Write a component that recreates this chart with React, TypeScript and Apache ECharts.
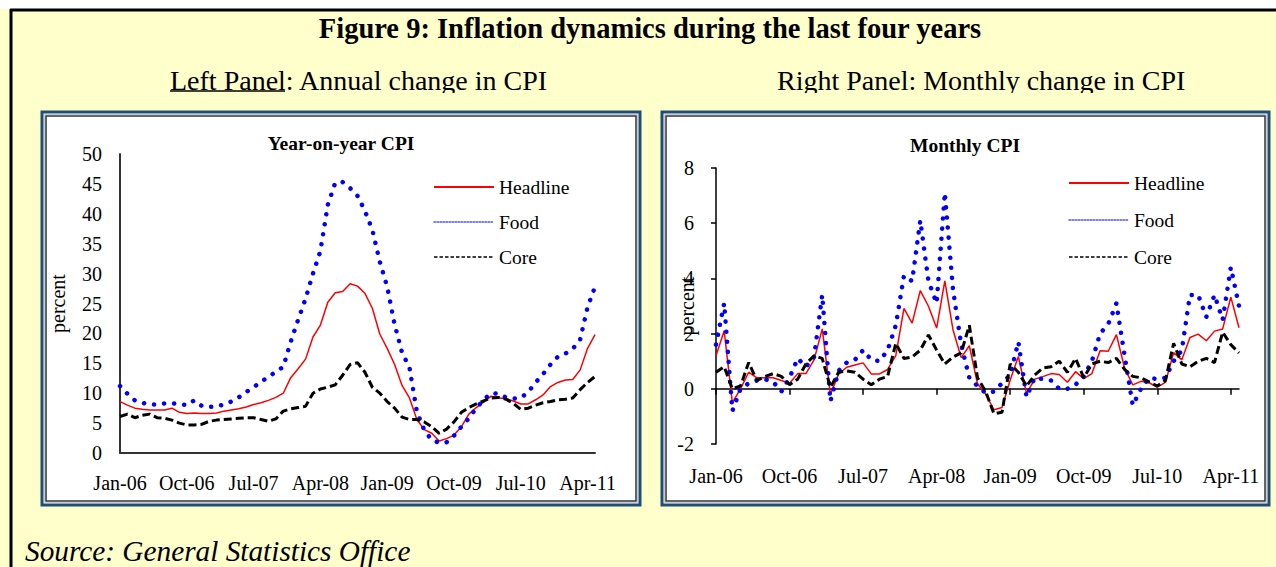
import React, { useEffect, useRef } from 'react';
import * as echarts from 'echarts';

// ---------- data ----------
const MONTH_NAMES = ['Jan', 'Feb', 'Mar', 'Apr', 'May', 'Jun', 'Jul', 'Aug', 'Sep', 'Oct', 'Nov', 'Dec'];
const YEARS = ['06', '07', '08', '09', '10', '11'];
const N_POINTS = 65; // Jan-06 .. May-11
const categories: string[] = [];
for (const y of YEARS) for (const m of MONTH_NAMES) if (categories.length < N_POINTS) categories.push(`${m}-${y}`);

const SERIES_NAMES = ['Headline', 'Food', 'Core'];

// Year-on-year CPI (%)
const yoyHeadline = [
  8.6, 8.0, 7.5, 7.3, 7.2, 7.2, 7.2, 7.5, 6.8, 6.6, 6.7, 6.6,
  6.6, 6.7, 7.0, 7.2, 7.4, 7.7, 8.1, 8.4, 8.8, 9.3, 10.0, 12.6,
  14.1, 15.7, 19.4, 21.4, 25.2, 26.8, 27.0, 28.3, 27.9, 26.7, 24.2, 19.9,
  17.5, 14.8, 11.3, 9.2, 5.6, 3.9, 3.3, 2.0, 2.4, 3.0, 4.4, 6.5,
  7.6, 8.5, 9.5, 9.2, 9.1, 8.7, 8.2, 8.2, 8.9, 9.7, 11.1, 11.8,
  12.2, 12.3, 13.9, 17.5, 19.8,
];
const yoyFood = [
  11.2, 9.9, 8.8, 8.4, 8.1, 8.1, 8.3, 8.3, 8.2, 8.0, 8.8, 7.9,
  7.7, 7.8, 8.1, 8.6, 9.3, 10.2, 11.0, 11.9, 12.7, 13.6, 14.4, 18.6,
  22.3, 25.8, 30.0, 33.8, 41.5, 45.2, 45.3, 44.3, 43.0, 40.5, 37.3, 32.0,
  27.8, 21.5, 16.8, 14.3, 6.9, 3.8, 2.2, 1.7, 1.8, 2.9, 4.4, 5.8,
  7.5, 8.9, 10.0, 9.9, 9.3, 9.1, 9.2, 10.2, 11.8, 13.2, 14.8, 16.1,
  16.6, 17.4, 19.0, 24.4, 27.8,
];
const yoyCore = [
  6.1, 6.5, 5.9, 6.3, 6.5, 5.9, 5.8, 5.5, 5.0, 4.7, 4.7, 4.8,
  5.3, 5.5, 5.6, 5.7, 5.8, 5.9, 5.9, 5.6, 5.3, 5.7, 7.0, 7.4,
  7.6, 7.8, 10.0, 10.7, 11.0, 11.4, 13.0, 14.8, 15.1, 13.5, 11.0, 10.0,
  8.6, 7.5, 6.0, 5.6, 5.6, 5.2, 4.4, 3.3, 4.0, 5.2, 6.8, 7.6,
  8.2, 8.7, 9.2, 9.3, 9.0, 8.3, 7.3, 7.5, 8.0, 8.4, 8.6, 8.9,
  9.0, 9.2, 10.6, 11.8, 12.8,
];

// Month-on-month CPI (%)
const momHeadline = [
  1.2, 2.1, -0.5, 0.0, 0.6, 0.4, 0.4, 0.4, 0.3, 0.2, 0.55, 0.55,
  1.05, 2.17, -0.2, 0.53, 0.78, 0.86, 0.94, 0.54, 0.54, 0.7, 1.2, 2.91,
  2.38, 3.56, 2.99, 2.2, 3.91, 2.14, 1.13, 1.56, 0.18, -0.19, -0.76, -0.68,
  0.32, 1.17, -0.17, 0.35, 0.44, 0.55, 0.52, 0.24, 0.62, 0.37, 0.55, 1.38,
  1.36, 1.96, 0.75, 0.14, 0.27, 0.22, 0.06, 0.23, 1.31, 1.05, 1.86, 1.98,
  1.74, 2.09, 2.17, 3.32, 2.21,
];
const momFood = [
  1.6, 3.1, -0.8, 0.0, 0.2, 0.3, 0.35, 0.25, -0.1, 0.4, 1.1, 0.8,
  1.15, 3.4, -0.45, 0.65, 0.95, 1.05, 1.4, 1.05, 1.0, 1.4, 2.3, 4.1,
  3.9, 6.1, 3.9, 3.1, 7.1, 3.6, 1.6, 0.4, 0.1, -0.15, -0.1, 0.2,
  0.5, 1.7, -0.3, 0.4, 0.35, 0.3, 0.0, 0.0, 0.15, 0.45, 1.0, 2.0,
  2.35, 3.1, 1.2, -0.6, 0.0, 0.4, 0.35, 0.4, 1.0, 1.4, 3.4, 3.4,
  2.6, 3.4, 2.5, 4.4, 3.0,
];
const momCore = [
  0.6, 0.8, 0.0, 0.1, 0.95, 0.3, 0.45, 0.55, 0.45, 0.15, 0.35, 0.9,
  1.2, 1.1, 0.05, 0.6, 0.65, 0.6, 0.35, 0.15, 0.35, 0.45, 1.65, 1.1,
  1.15, 1.4, 1.95, 1.4, 0.9, 1.15, 1.3, 2.3, 0.4, -0.1, -0.9, -0.85,
  0.9, 0.6, 0.1, 0.5, 0.75, 0.8, 1.0, 0.6, 1.1, 0.4, 0.9, 1.0,
  0.95, 1.1, 0.7, 0.45, 0.4, 0.25, 0.1, 0.3, 1.65, 0.9, 0.8, 1.0,
  1.1, 0.95, 2.05, 1.6, 1.3,
];

// ---------- styles ----------
const SERIF = "'Liberation Serif', 'Times New Roman', serif";
const RED = '#FF0000';
const BLUE = '#0000FF';
const BLACK = '#000000';
const PANEL_BLUE = '#1F4E79';
const PAGE_BG = '#FFFFCC';

const lineStyles: Record<string, any> = {
  Headline: { color: RED, width: 1.5, type: 'solid' },
  Food: { color: BLUE, width: 4.5, type: [0.1, 10], cap: 'round' },
  Core: { color: BLACK, width: 3, type: [8, 4] },
};

const legendData = [
  { name: 'Headline', itemStyle: { opacity: 0 }, lineStyle: { color: RED, width: 2, type: 'solid' } },
  { name: 'Food', itemStyle: { opacity: 0 }, lineStyle: { color: '#5050FF', width: 1.5, type: [1.5, 1.5] } },
  { name: 'Core', itemStyle: { opacity: 0 }, lineStyle: { color: BLACK, width: 1.4, type: [3.5, 2] } },
];

function makeSeries(values: number[][], xAxisIndex: number, yAxisIndex: number) {
  return SERIES_NAMES.map((name, k) => ({
    name,
    type: 'line',
    xAxisIndex,
    yAxisIndex,
    data: values[k],
    symbol: 'none',
    smooth: false,
    z: 4 + k,
    lineStyle: lineStyles[name],
    itemStyle: { color: lineStyles[name].color },
  }));
}

const axisLabelStyle = { fontFamily: SERIF, fontSize: 20, color: '#000' };
const nameStyle = { fontFamily: SERIF, fontSize: 20, color: '#000' };
const legendText = { fontFamily: SERIF, fontSize: 19.5, color: '#000' };

function buildOption() {
  return {
    animation: false,
    backgroundColor: 'transparent',
    grid: [
      { left: 120, top: 154, width: 475, height: 299 },
      { left: 716, top: 168, width: 523, height: 276 },
    ],
    xAxis: [
      {
        gridIndex: 0, type: 'category', data: categories, boundaryGap: false, position: 'bottom',
        axisLine: { lineStyle: { color: '#333', width: 2 } },
        axisTick: { show: false },
        axisLabel: { ...axisLabelStyle, interval: 8, margin: 20 },
        splitLine: { show: false },
        z: 3,
      },
      {
        gridIndex: 1, type: 'category', data: categories, boundaryGap: false, position: 'bottom',
        axisLine: { onZero: true, lineStyle: { color: '#000', width: 1.5 } },
        axisTick: { show: true, interval: 8, length: 6, lineStyle: { color: '#000', width: 1.5 } },
        axisLabel: { show: false },
        splitLine: { show: false },
        z: 3,
      },
      {
        gridIndex: 1, type: 'category', data: categories, boundaryGap: false, position: 'bottom',
        axisLine: { show: false, onZero: false },
        axisTick: { show: false },
        axisLabel: { ...axisLabelStyle, interval: 8, margin: 22 },
        splitLine: { show: false },
        z: 3,
      },
    ],
    yAxis: [
      {
        gridIndex: 0, type: 'value', min: 0, max: 50, interval: 5,
        axisLine: { show: true, lineStyle: { color: '#333', width: 2 } },
        axisTick: { show: false },
        axisLabel: { ...axisLabelStyle, margin: 18 },
        splitLine: { show: false },
        name: 'percent', nameLocation: 'middle', nameGap: 52, nameRotate: 90, nameMoveOverlap: false,
        nameTextStyle: nameStyle,
        z: 3,
      },
      {
        gridIndex: 1, type: 'value', min: -2, max: 8, interval: 2,
        axisLine: { show: true, lineStyle: { color: '#000', width: 1.5 } },
        axisTick: { show: true, length: 5, lineStyle: { color: '#000', width: 1.5 } },
        axisLabel: { ...axisLabelStyle, margin: 22 },
        splitLine: { show: false },
        name: 'percent', nameLocation: 'middle', nameGap: 19, nameRotate: 90, nameMoveOverlap: false,
        nameTextStyle: nameStyle,
        z: 3,
      },
    ],
    legend: [
      {
        left: 428, top: 172, orient: 'vertical', itemWidth: 60, itemHeight: 14, itemGap: 15,
        selectedMode: false, data: legendData, textStyle: legendText,
      },
      {
        left: 1063, top: 168, orient: 'vertical', itemWidth: 60, itemHeight: 14, itemGap: 17,
        selectedMode: false, data: legendData, textStyle: legendText,
      },
    ],
    series: [
      ...makeSeries([yoyHeadline, yoyFood, yoyCore], 0, 0),
      ...makeSeries([momHeadline, momFood, momCore], 1, 1),
    ],
    graphic: [
      // page background
      { type: 'rect', z: -20, silent: true, shape: { x: 0, y: 0, width: 1276, height: 567 }, style: { fill: PAGE_BG } },
      { type: 'rect', z: -19, silent: true, shape: { x: 0, y: 0, width: 1276, height: 9 }, style: { fill: '#FFFFFF' } },
      { type: 'line', z: -18, silent: true, shape: { x1: 10, y1: 10, x2: 1276, y2: 10 }, style: { stroke: '#000', lineWidth: 3 } },
      { type: 'line', z: -18, silent: true, shape: { x1: 11, y1: 9, x2: 11, y2: 567 }, style: { stroke: '#000', lineWidth: 3 } },
      // left panel frame
      { type: 'rect', z: -17, silent: true, shape: { x: 42, y: 112, width: 598, height: 393 }, style: { fill: '#FFFFFF', stroke: PANEL_BLUE, lineWidth: 3 } },
      { type: 'rect', z: -16, silent: true, shape: { x: 44.5, y: 114.5, width: 593, height: 388 }, style: { fill: 'none', stroke: '#C8CCD4', lineWidth: 1 } },
      { type: 'rect', z: -16, silent: true, shape: { x: 46, y: 116, width: 590, height: 385 }, style: { fill: 'none', stroke: '#333', lineWidth: 1.5 } },
      // right panel frame
      { type: 'rect', z: -17, silent: true, shape: { x: 662, y: 112, width: 607, height: 393 }, style: { fill: '#FFFFFF', stroke: PANEL_BLUE, lineWidth: 3 } },
      { type: 'rect', z: -16, silent: true, shape: { x: 664.5, y: 114.5, width: 602, height: 388 }, style: { fill: 'none', stroke: '#C8CCD4', lineWidth: 1 } },
      { type: 'rect', z: -16, silent: true, shape: { x: 666, y: 116, width: 599, height: 385 }, style: { fill: 'none', stroke: '#333', lineWidth: 1.5 } },
      // page texts
      {
        type: 'text', z: 10, silent: true, x: 650, y: 28,
        style: { text: 'Figure 9: Inflation dynamics during the last four years', fontFamily: SERIF, fontSize: 28.5, fontWeight: 'bold', fill: '#000', textAlign: 'center', textVerticalAlign: 'middle' },
      },
      {
        type: 'text', z: 10, silent: true, x: 170, y: 80,
        style: { text: 'Left Panel: Annual change in CPI', fontFamily: SERIF, fontSize: 28, fill: '#000', textAlign: 'left', textVerticalAlign: 'middle' },
      },
      { type: 'line', z: 10, silent: true, shape: { x1: 170, y1: 91, x2: 285, y2: 91 }, style: { stroke: '#000', lineWidth: 1.5 } },
      {
        type: 'text', z: 10, silent: true, x: 777, y: 80,
        style: { text: 'Right Panel: Monthly change in CPI', fontFamily: SERIF, fontSize: 28, fill: '#000', textAlign: 'left', textVerticalAlign: 'middle' },
      },
      // clipping strip under the sub-titles
      { type: 'rect', z: 11, silent: true, shape: { x: 14, y: 93, width: 1262, height: 17 }, style: { fill: PAGE_BG } },
      {
        type: 'text', z: 10, silent: true, x: 25, y: 551,
        style: { text: 'Source: General Statistics Office', fontFamily: SERIF, fontSize: 29.3, fontStyle: 'italic', fill: '#000', textAlign: 'left', textVerticalAlign: 'middle' },
      },
      // chart titles
      {
        type: 'text', z: 10, silent: true, x: 341, y: 143,
        style: { text: 'Year-on-year CPI', fontFamily: SERIF, fontSize: 19.5, fontWeight: 'bold', fill: '#000', textAlign: 'center', textVerticalAlign: 'middle' },
      },
      {
        type: 'text', z: 10, silent: true, x: 965, y: 145,
        style: { text: 'Monthly CPI', fontFamily: SERIF, fontSize: 19.5, fontWeight: 'bold', fill: '#000', textAlign: 'center', textVerticalAlign: 'middle' },
      },
    ],
  };
}

export default function App() {
  const ref = useRef<HTMLDivElement>(null);
  useEffect(() => {
    document.body.style.margin = '0';
    if (!ref.current) return;
    const chart = echarts.init(ref.current, undefined, { renderer: 'svg', width: 1276, height: 567 });
    chart.setOption(buildOption() as any);
    return () => chart.dispose();
  }, []);
  return <div ref={ref} style={{ width: 1276, height: 567, background: PAGE_BG }} />;
}
